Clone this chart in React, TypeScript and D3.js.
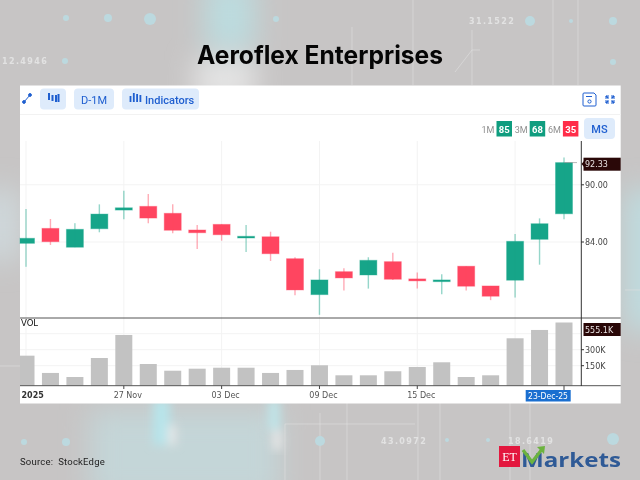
import React from "react";
import * as d3 from "d3";

// candles
const opens = [83.86, 85.43, 83.45, 85.39, 87.35, 87.74, 87.01, 85.26, 85.85, 84.42, 84.55, 82.25, 78.48, 80.89, 80.54, 81.94, 80.13, 79.84, 81.46, 79.39, 79.99, 84.28, 86.96];
const closes = [84.39, 84.03, 85.33, 86.93, 87.59, 86.51, 85.23, 84.97, 84.76, 84.6, 82.77, 78.97, 80.02, 80.23, 82.08, 80.09, 79.92, 80.02, 79.36, 78.31, 84.07, 85.92, 92.33];
const highs = [87.46, 86.41, 85.96, 87.95, 89.37, 89.03, 87.95, 85.78, 85.85, 85.78, 85.08, 82.4, 81.14, 81.25, 82.4, 82.88, 80.79, 80.62, 81.46, 79.39, 84.84, 86.48, 92.87];
const lows = [81.41, 83.69, 83.45, 85.02, 86.38, 85.96, 84.91, 83.27, 84.14, 82.95, 82.01, 78.42, 76.36, 78.9, 79.11, 80.02, 79.11, 78.52, 78.9, 77.9, 78.17, 81.62, 86.38];
const volumes = [244, 82, 44, 222, 438, 166, 103, 122, 131, 131, 82, 110, 154, 60, 60, 98, 138, 182, 44, 60, 407, 485, 555.1];

const dateTicks: [number, string][] = [[4, "27 Nov"], [8, "03 Dec"], [12, "09 Dec"], [16, "15 Dec"]];
const priceTicks = [84, 90];
const volTicks = [150, 300];
const volGrid = [150, 300, 450];
const gridIdx = [0, 4, 8, 12, 16, 20];
const momentum = [
  { label: "1M", value: 85, color: "#0f9d7f" },
  { label: "3M", value: 68, color: "#0f9d7f" },
  { label: "6M", value: 35, color: "#ff2d49" },
];
const bgNumbers: [string, number, number][] = [["31.1522", 469, 24], ["12.4946", 2, 64], ["43.0972", 381, 444], ["18.6419", 508, 444]];
const bgDots: [number, number, number][] = [[66, 18, 3], [108, 18, 4], [150, 19, 6], [276, 19, 3], [530, 21, 5], [571, 21, 2], [613, 21, 4], [65, 61, 3], [613, 62, 3], [24, 442, 3], [66, 442, 4], [320, 441, 5], [447, 440, 2], [488, 440, 2], [613, 439, 6]];
const bgLines: [number, number, number, number][] = [[352, 27, 352, 85], [413, 0, 413, 85], [472, 30, 472, 85], [455, 72, 472, 50], [472, 50, 480, 50], [553, 0, 553, 85], [578, 0, 578, 85], [285, 424, 415, 424], [320, 413, 320, 480], [347, 403, 347, 480], [440, 403, 440, 480], [418, 403, 418, 480], [510, 403, 510, 480], [530, 403, 530, 480], [285, 424, 285, 480], [625, 290, 640, 290], [0, 366, 20, 366]];

const GREEN = "#17a589";
const RED = "#ff4560";
const BLUE = "#1f5fd0";
const SANS = "Roboto, 'Noto Sans', sans-serif";
const MONO = "'DejaVu Sans', sans-serif";

const x = d3.scaleLinear().domain([0, 22]).range([26, 564]);
const y = d3.scaleLinear().domain([84, 90]).range([242, 184.8]);
const yVol = d3.scaleLinear().domain([0, 150]).range([381.7, 365.7]);
const bodyW = 17;

function Btn({ bx, w, label }: { bx: number; w: number; label?: string }) {
  return (
    <g>
      <rect x={bx} y={88.5} width={w} height={21} rx={4} fill="#deebfb" />
      {label && (
        <text x={bx + w / 2} y={103.5} textAnchor="middle" fontSize={11} fontFamily={SANS} fill={BLUE}>
          {label}
        </text>
      )}
    </g>
  );
}

export default function App() {
  const base = 385.7;
  return (
    <svg width={640} height={480} style={{ position: "absolute", left: 0, top: 0, display: "block" }}>
      <defs>
        <filter id="b20"><feGaussianBlur stdDeviation="14" /></filter>
        <filter id="b6"><feGaussianBlur stdDeviation="5" /></filter>
        <filter id="b1"><feGaussianBlur stdDeviation="0.6" /></filter>
        <filter id="soft"><feGaussianBlur stdDeviation="0.3" /></filter>
      </defs>

      <rect width={640} height={480} fill="#c7c5c5" />
      <g filter="url(#b20)">
        <rect x={205} y={-20} width={50} height={70} fill="#bcdcdf" />
        <rect x={195} y={60} width={60} height={40} fill="#e6e6e6" />
        <rect x={90} y={410} width={190} height={90} fill="#c4d6d8" />
        <rect x={628} y={190} width={30} height={140} fill="#bde0e4" />
        <rect x={-20} y={190} width={40} height={70} fill="#cfd8db" />
      </g>
      <g filter="url(#b6)">
        <rect x={153} y={400} width={17} height={45} fill="#b8e4ea" />
        <rect x={268} y={400} width={12} height={30} fill="#c0e4e8" />
        <rect x={168} y={425} width={8} height={20} fill="#e6e6e6" />
        <rect x={273} y={430} width={8} height={20} fill="#e8e8e8" />
      </g>
      <g filter="url(#b1)">
        {bgLines.map((l, i) => (
          <line key={i} x1={l[0]} y1={l[1]} x2={l[2]} y2={l[3]} stroke="#e0e0e0" strokeWidth={1} opacity={0.6} />
        ))}
        {bgDots.map((d, i) => (
          <circle key={i} cx={d[0]} cy={d[1]} r={d[2]} fill="#bcd9df" />
        ))}
        {bgNumbers.map((n) => (
          <text key={n[0]} x={n[1]} y={n[2]} fontSize={8} fontWeight={700} letterSpacing={1.4} fontFamily={MONO} fill="#e2e2e2">
            {n[0]}
          </text>
        ))}
      </g>

      <text x={320} y={64} textAnchor="middle" fontSize={25} fontWeight={700} fontFamily="Inter, sans-serif" fill="#050505" textLength={246} lengthAdjust="spacingAndGlyphs">
        Aeroflex Enterprises
      </text>

      {/* panel */}
      <rect x={20} y={85.5} width={600.7} height={318} fill="#ffffff" />
      <line x1={20} x2={620.7} y1={114.5} y2={114.5} stroke="#f2f2f2" />

      {/* toolbar */}
      <g stroke={BLUE} fill={BLUE}>
        <line x1={24} y1={102} x2={30} y2={95} strokeWidth={1} />
        <circle cx={24} cy={102} r={1.4} />
        <circle cx={30} cy={95} r={1.4} />
      </g>
      <Btn bx={40} w={26} />
      <g fill={BLUE}>
        {[49, 52.5, 56, 58.5].map((bx, i) => (
          <rect key={bx} x={bx - 1} y={[93, 95, 95, 94][i]} width={2} height={[7, 6, 7, 8][i]} />
        ))}
      </g>
      <Btn bx={74} w={40} label="D-1M" />
      <Btn bx={122} w={77} />
      <g fill={BLUE}>
        {[130.5, 133.8, 137.1, 140.4].map((bx, i) => (
          <rect key={bx} x={bx - 0.9} y={[96, 93, 94, 95][i]} width={1.8} height={[6, 9, 8, 7][i]} />
        ))}
      </g>
      <text x={145} y={103.5} fontSize={11} fontFamily={SANS} fontWeight={500} fill={BLUE}>Indicators</text>
      <g fill="none" stroke={BLUE} strokeWidth={1}>
        <path d="M584 93 h10 l2 2 v10 a1 1 0 0 1 -1 1 h-11 a1 1 0 0 1 -1 -1 v-11 a1 1 0 0 1 1 -1 z" />
        <circle cx={589.5} cy={101.5} r={1.6} />
        <line x1={586} x2={592} y1={96.5} y2={96.5} />
      </g>
      <g fill="none" stroke={BLUE} strokeWidth={1.6}>
        <path d="M606 96 l2.5 2.5 M614 96 l-2.5 2.5 M606 103 l2.5 -2.5 M614 103 l-2.5 -2.5" />
        <path d="M606 99 v-3 h3 M611 96 h3 v3 M606 100 v3 h3 M611 103 h3 v-3" strokeWidth={1} />
      </g>

      {/* momentum badges */}
      {momentum.map((m, i) => (
        <g key={m.label}>
          <text x={481.5 + i * 33.2} y={132.5} fontSize={9} fontFamily={SANS} fill="#8f8f8f">{m.label}</text>
          <rect x={496.5 + i * 33.2} y={121} width={15.5} height={15.5} fill={m.color} />
          <text x={504.3 + i * 33.2} y={132.5} textAnchor="middle" fontSize={9.5} fontWeight={700} fontFamily={SANS} fill="#fff">{m.value}</text>
        </g>
      ))}
      <rect x={584} y={118} width={31} height={21} rx={4} fill="#deebfb" />
      <text x={599.5} y={132.5} textAnchor="middle" fontSize={11} fontWeight={500} fontFamily={SANS} fill={BLUE}>MS</text>

      {/* grid */}
      <g stroke="#f3f3f3" strokeWidth={1}>
        {gridIdx.map((i) => (
          <line key={i} x1={x(i)} x2={x(i)} y1={141} y2={base} />
        ))}
        {priceTicks.map((t) => (
          <line key={t} x1={20} x2={581} y1={y(t)} y2={y(t)} />
        ))}
        {volGrid.map((t) => (
          <line key={t} x1={20} x2={581} y1={yVol(t)} y2={yVol(t)} />
        ))}
      </g>

      {/* candles */}
      <g filter="url(#soft)">
        {opens.map((o, i) => {
          const c = closes[i];
          const col = c >= o ? GREEN : RED;
          const top = y(Math.max(o, c));
          const h = Math.max(1.5, Math.abs(y(o) - y(c)));
          const bx = Math.max(20, x(i) - bodyW / 2);
          const bw = x(i) + bodyW / 2 - bx;
          return (
            <g key={i}>
              <rect x={bx} y={top} width={bw} height={h} fill={col} stroke={col} strokeOpacity={0.35} strokeWidth={1} />
              <line x1={x(i)} x2={x(i)} y1={y(highs[i])} y2={y(lows[i])} stroke={col} strokeOpacity={0.45} strokeWidth={1.4} />
            </g>
          );
        })}
      </g>

      {/* volume */}
      <g filter="url(#soft)">
        {volumes.map((v, i) => {
          const bx = Math.max(20, x(i) - bodyW / 2);
          return (
            <rect key={i} x={bx} y={yVol(v)} width={x(i) + bodyW / 2 - bx} height={base - yVol(v)} fill="#c2c2c2" />
          );
        })}
      </g>

      {/* frame lines */}
      <line x1={20} x2={620.7} y1={318} y2={318} stroke="#555" strokeWidth={1} />
      <line x1={20} x2={620.7} y1={385.7} y2={385.7} stroke="#555" strokeWidth={1} />
      <line x1={581.3} x2={581.3} y1={141} y2={386} stroke="#333" strokeWidth={1} />
      <text x={21} y={325.5} fontSize={8.5} fontWeight={500} fontFamily={MONO} fill="#111">VOL</text>

      {/* price axis */}
      {priceTicks.map((t) => (
        <g key={t}>
          <line x1={581} x2={584} y1={y(t)} y2={y(t)} stroke="#333" />
          <text x={585} y={y(t) + 3} fontSize={8} fontFamily={MONO} fill="#444">{t.toFixed(2)}</text>
        </g>
      ))}
      <rect x={583.5} y={157.7} width={37.2} height={13} fill="#2a0808" />
      <path d="M581.5 164 L584.5 160.5 V167.5 Z" fill="#2a0808" />
      <text x={585} y={167.3} fontSize={8} fontFamily={MONO} fill="#e8e2e2">{closes[22].toFixed(2)}</text>
      <line x1={564} x2={577} y1={y(closes[22])} y2={y(closes[22])} stroke="#999" strokeWidth={0.7} />

      {/* volume axis */}
      {volTicks.map((t) => (
        <g key={t}>
          <line x1={581} x2={584} y1={yVol(t)} y2={yVol(t)} stroke="#333" />
          <text x={585} y={yVol(t) + 3} fontSize={8} fontFamily={MONO} fill="#444">{t}K</text>
        </g>
      ))}
      <rect x={583.5} y={323} width={37.2} height={13} fill="#2a0808" />
      <text x={585} y={332.6} fontSize={8} fontFamily={MONO} fill="#e8e2e2">{volumes[22]}K</text>

      {/* date axis */}
      {dateTicks.map(([i, label]) => (
        <g key={label}>
          <line x1={x(i)} x2={x(i)} y1={385.7} y2={389} stroke="#444" />
          <text x={x(i) + 4} y={398} textAnchor="middle" fontSize={8} fontFamily={MONO} fill="#555">{label}</text>
        </g>
      ))}
      <text x={21.5} y={398} fontSize={8} fontWeight={700} fontFamily={MONO} fill="#333">2025</text>
      <rect x={525.7} y={390} width={45} height={11.5} fill="#1a6fd0" />
      <line x1={x(22)} x2={x(22)} y1={385.7} y2={390} stroke="#444" />
      <text x={548} y={398.8} textAnchor="middle" fontSize={8} fontFamily={MONO} fill="#fff" textLength={40} lengthAdjust="spacingAndGlyphs">23-Dec-25</text>

      {/* footer */}
      <text x={20} y={465} fontSize={9.5} fontFamily={SANS} fill="#222" letterSpacing={0.2} xmlSpace="preserve">Source:  StockEdge</text>
      <rect x={499} y={446} width={21} height={21} fill="#e3173e" />
      <text x={509.5} y={461} textAnchor="middle" fontSize={12} fontFamily="'Liberation Serif', serif" fill="#fff">ET</text>
      <text x={521} y={467} fontSize={19} fontWeight={700} fontFamily="'Open Sans', sans-serif" fill="#2f5a96" textLength={100} lengthAdjust="spacingAndGlyphs">Markets</text>
      <path d="M523 450 L532 462 L543 448" fill="none" stroke="#6cb33f" strokeWidth={3.2} />
      <path d="M537 447 L545 446 L544 454 Z" fill="#6cb33f" />
    </svg>
  );
}
